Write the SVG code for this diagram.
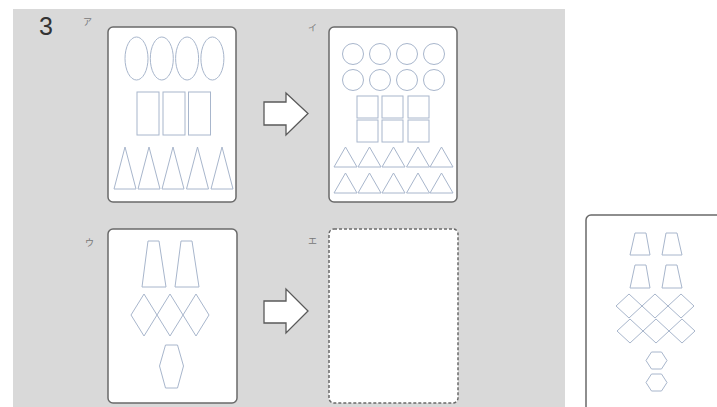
<svg xmlns="http://www.w3.org/2000/svg" width="717" height="407" viewBox="0 0 717 407">
<style>
.card{fill:#fff;stroke:#6a6a6a;stroke-width:1.5}
.dash{fill:#fff;stroke:#6a6a6a;stroke-width:1.5;stroke-dasharray:3 2}
.sh{fill:none;stroke:#a8b6cc;stroke-width:1}
.arrow{fill:#fff;stroke:#5a5a5a;stroke-width:1.3;stroke-linejoin:miter}
.lbl{font-family:"Noto Sans CJK JP","Noto Sans",sans-serif;font-size:9px;fill:#777}
.num{font-family:"Liberation Sans",Arial,sans-serif;font-size:25px;fill:#333}
</style>
<rect x="13" y="9" width="552" height="398" fill="#d9d9d9"/>
<text class="num" x="39" y="35">3</text>

<g id="card-a">
<text class="lbl" x="83" y="25">ア</text>
<rect class="card" x="108" y="27" width="128" height="175" rx="5"/>
<g class="sh">
<ellipse cx="136.5" cy="58.5" rx="11.5" ry="21.5"/>
<ellipse cx="161.8" cy="58.5" rx="11.5" ry="21.5"/>
<ellipse cx="187.1" cy="58.5" rx="11.5" ry="21.5"/>
<ellipse cx="212.4" cy="58.5" rx="11.5" ry="21.5"/>
<rect x="137" y="92" width="22" height="43"/>
<rect x="163" y="92" width="22" height="43"/>
<rect x="188.5" y="92" width="22" height="43"/>
<polygon points="114,189 136,189 125,147"/>
<polygon points="138,189 160,189 149,147"/>
<polygon points="162,189 184,189 173,147"/>
<polygon points="186.5,189 208.5,189 197.5,147"/>
<polygon points="211,189 233,189 222,147"/>
</g>
</g>

<g id="card-i">
<text class="lbl" x="308" y="31">イ</text>
<rect class="card" x="329" y="27" width="128" height="175" rx="5"/>
<g class="sh">
<circle cx="353" cy="54" r="10.5"/>
<circle cx="380" cy="54" r="10.5"/>
<circle cx="407" cy="54" r="10.5"/>
<circle cx="434" cy="54" r="10.5"/>
<circle cx="353" cy="80" r="10.5"/>
<circle cx="380" cy="80" r="10.5"/>
<circle cx="407" cy="80" r="10.5"/>
<circle cx="434" cy="80" r="10.5"/>
<rect x="357" y="96" width="21" height="22"/>
<rect x="382" y="96" width="21" height="22"/>
<rect x="408" y="96" width="21" height="22"/>
<rect x="357" y="120" width="21" height="22"/>
<rect x="382" y="120" width="21" height="22"/>
<rect x="408" y="120" width="21" height="22"/>
<polygon points="334,167 357,167 345.5,147"/>
<polygon points="358,167 381,167 369.5,147"/>
<polygon points="382,167 405,167 393.5,147"/>
<polygon points="406.5,167 429.5,167 418,147"/>
<polygon points="430,167 453,167 441.5,147"/>
<polygon points="334,193 357,193 345.5,173"/>
<polygon points="358,193 381,193 369.5,173"/>
<polygon points="382,193 405,193 393.5,173"/>
<polygon points="406.5,193 429.5,193 418,173"/>
<polygon points="430,193 453,193 441.5,173"/>
</g>
</g>

<g id="card-u">
<text class="lbl" x="85" y="246">ウ</text>
<rect class="card" x="108" y="229" width="129" height="174" rx="5"/>
<g class="sh">
<polygon points="148,241 159,241 166,287 142,287"/>
<polygon points="181,241 192,241 199,287 175,287"/>
<polygon points="144,294 157,315 144,336 131,315"/>
<polygon points="170,294 183,315 170,336 157,315"/>
<polygon points="196,294 209,315 196,336 183,315"/>
<polygon points="165.5,345 177.5,345 183.5,366 177.5,388 165.5,388 159.5,366"/>
</g>
</g>

<g id="card-e">
<text class="lbl" x="308" y="244">エ</text>
<rect class="dash" x="329" y="229" width="129" height="174" rx="5"/>
</g>

<g id="card-answer">
<rect class="card" x="586" y="215" width="160" height="220" rx="5"/>
<g class="sh">
<polygon points="635,233 646,233 650,255 630,255"/>
<polygon points="666,233 677,233 682,255 662,255"/>
<polygon points="635,265 646,265 650,288 630,288"/>
<polygon points="666,265 677,265 682,288 662,288"/>
<polygon points="629,294 642,306 629,318 616,306"/>
<polygon points="655,294 668,306 655,318 642,306"/>
<polygon points="681,294 694,306 681,318 668,306"/>
<polygon points="630,319 643,331 630,343 617,331"/>
<polygon points="656,319 669,331 656,343 643,331"/>
<polygon points="682,319 695,331 682,343 669,331"/>
<polygon points="651.5,352 661.5,352 667,360.5 661.5,369 651.5,369 646,360.5"/>
<polygon points="651.5,374 661.5,374 667,382.5 661.5,391 651.5,391 646,382.5"/>
</g>
</g>

<g id="connectors">
<polygon class="arrow" points="264,102 286,102 286,93 308,113.5 286,135 286,125 264,125"/>
<polygon class="arrow" points="264,301 286,301 286,289 308,311 286,333 286,323 264,323"/>
</g>
</svg>
